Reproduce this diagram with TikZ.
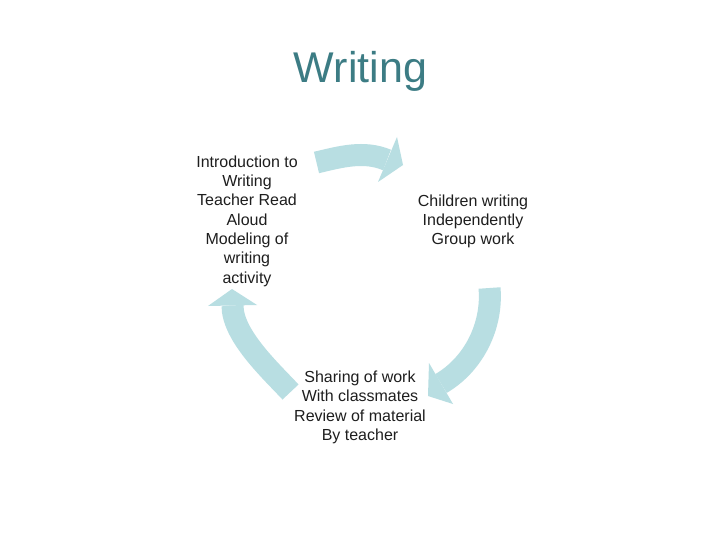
\documentclass[tikz,border=0pt]{standalone}
\usepackage{fontspec}
\setmainfont{Liberation Sans}
\definecolor{arrowblue}{RGB}{184,222,226}
\definecolor{titleteal}{RGB}{60,124,132}
\definecolor{txt}{RGB}{30,30,30}
\begin{document}
\begin{tikzpicture}[x=1pt,y=-1pt,
  body/.style={draw=arrowblue,line width=22pt,line cap=butt},
  head/.style={fill=arrowblue,draw=none},
  label/.style={align=center,text=txt,font=\fontsize{16}{19.3}\selectfont,inner sep=0pt}]
\useasboundingbox[fill=white] (0,0) rectangle (720,540);
% title
\node[anchor=base,text=titleteal,font=\fontsize{43}{50}\selectfont,inner sep=0pt] (title) at (360.5,83) {Writing};
% text nodes
\node[label] (intro) at (247,221) {Introduction to\\Writing\\Teacher Read\\Aloud\\Modeling of\\writing\\activity};
\node[label] (indep) at (473,221.5) {Children writing\\Independently\\Group work};
\node[label] (share) at (360,407.5) {Sharing of work\\With classmates\\Review of material\\By teacher};
% top arrow
\coordinate (t0) at (316.5,162.5);
\coordinate (t1) at (387,160);
\draw[body] (t0) .. controls (340.8,156.7) and (364,150.3) .. (t1);
\fill[head] (397,137) -- (403,165) -- (378,182) -- cycle;
% right arrow
\coordinate (r0) at (489.5,288);
\coordinate (r1) at (441,383.5);
\draw[body] (r0) .. controls (492.8,325.8) and (473.8,364.3) .. (r1);
\fill[head] (453,404) -- (428,396) -- (429,363) -- cycle;
% left arrow
\coordinate (l0) at (290.5,392);
\coordinate (l1) at (232.5,305.5);
\draw[body] (l0) .. controls (270,370) and (232.5,335.5) .. (l1);
\fill[head] (208,306) -- (232,289) -- (257,305) -- cycle;
\end{tikzpicture}
\end{document}
